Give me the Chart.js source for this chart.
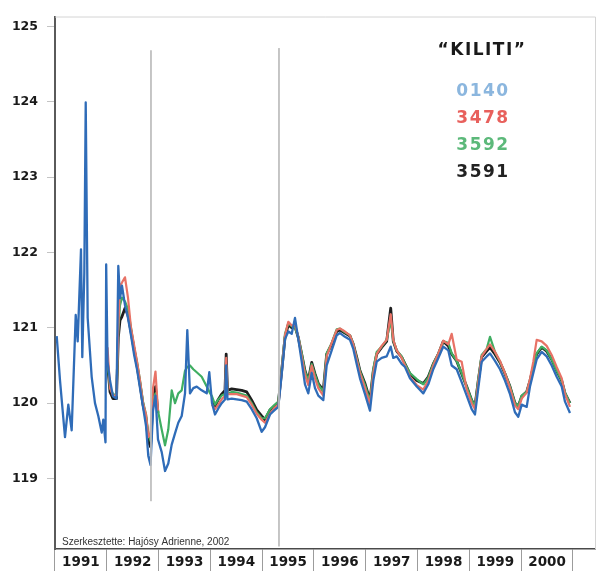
<!DOCTYPE html>
<html>
<head>
<meta charset="utf-8">
<script src="https://cdn.jsdelivr.net/npm/chart.js@4.4.1/dist/chart.umd.min.js"></script>
<style>
  html, body { margin: 0; padding: 0; background: #fff; }
  #wrap { width: 603px; height: 573px; }
</style>
</head>
<body>
<div id="wrap"><canvas id="c" width="603" height="573"></canvas></div>
<script>
// Measurement dates as decimal years
const dates = [
  1991.033, 1991.097, 1991.193, 1991.257, 1991.322, 1991.400, 1991.438, 1991.502, 1991.527, 1991.566,
  1991.593, 1991.631, 1991.708, 1991.772, 1991.836, 1991.902, 1991.932, 1991.975, 1991.988,
  1992.014, 1992.062, 1992.120, 1992.187, 1992.222, 1992.255, 1992.293, 1992.351, 1992.409, 1992.467,
  1992.525, 1992.583, 1992.641, 1992.699, 1992.757, 1992.801, 1992.844, 1992.892, 1992.940, 1992.988,
  1993.060, 1993.124, 1993.187, 1993.253, 1993.317, 1993.380, 1993.446, 1993.510, 1993.554, 1993.606,
  1993.670, 1993.736, 1993.832, 1993.929, 1993.979, 1994.031,
  1994.089, 1994.153, 1994.218, 1994.282, 1994.305, 1994.330, 1994.411, 1994.508, 1994.604, 1994.701,
  1994.797, 1994.894, 1994.990,
  1995.054, 1995.151, 1995.228, 1995.311, 1995.376, 1995.440, 1995.504, 1995.570, 1995.633, 1995.697,
  1995.763, 1995.826, 1995.890, 1995.956, 1996.019, 1996.083, 1996.180, 1996.245, 1996.342, 1996.438,
  1996.502, 1996.598, 1996.695, 1996.759, 1996.824, 1996.888, 1996.985, 1997.081, 1997.145, 1997.210,
  1997.307, 1997.403, 1997.481, 1997.531, 1997.597, 1997.693, 1997.757, 1997.853, 1997.983, 1998.110,
  1998.207, 1998.303, 1998.400, 1998.496, 1998.593, 1998.658, 1998.755, 1998.851, 1998.948, 1999.044,
  1999.108, 1999.172, 1999.237, 1999.334, 1999.398, 1999.494, 1999.591, 1999.687, 1999.784, 1999.880,
  1999.944, 2000.010, 2000.106, 2000.170, 2000.234, 2000.299, 2000.396, 2000.492, 2000.589, 2000.685,
  2000.782, 2000.846, 2000.942
];

// Well 0140 (the only record before 1992)
const s0140 = [
  120.89, 120.30, 119.55, 119.98, 119.64, 121.17, 120.82, 122.04, 120.61, 121.73,
  123.99, 121.13, 120.35, 120.00, 119.83, 119.61, 119.78, 119.48, 121.84,
  120.55, 120.30, 120.09, 120.06, 121.82, 121.39, 121.56, 121.30, 121.13, 120.90,
  120.65, 120.45, 120.20, 119.95, 119.70, 119.30, 119.18, 119.90, 120.10, 119.52,
  119.35, 119.10, 119.20, 119.45, 119.60, 119.74, 119.83, 120.13, 120.97, 120.13,
  120.20, 120.22, 120.17, 120.13, 120.41, 120.00,
  119.85, 119.93, 120.00, 120.05, 120.50, 120.05, 120.06, 120.05, 120.04, 120.02,
  119.92, 119.80, 119.62,
  119.68, 119.85, 119.90, 119.95, 120.38, 120.85, 120.95, 120.92, 121.13, 120.85,
  120.55, 120.25, 120.13, 120.40, 120.20, 120.10, 120.04, 120.50, 120.70, 120.90,
  120.93, 120.88, 120.84, 120.72, 120.52, 120.33, 120.12, 119.90, 120.30, 120.55,
  120.60, 120.62, 120.75, 120.60, 120.62, 120.52, 120.48, 120.33, 120.22, 120.13,
  120.25, 120.45, 120.60, 120.75, 120.70, 120.50, 120.45, 120.28, 120.10, 119.92,
  119.85, 120.20, 120.55, 120.62, 120.66, 120.56, 120.45, 120.30, 120.12, 119.88,
  119.82, 119.98, 119.95, 120.22, 120.40, 120.58, 120.68, 120.62, 120.50, 120.35,
  120.22, 120.02, 119.87
];

// Well 3478
const s3478 = [
  null, null, null, null, null, null, null, null, null, null,
  null, null, null, null, null, null, null, null, null,
  120.74, 120.20, 120.10, 120.10, 121.00, 121.56, 121.60, 121.67, 121.40, 121.00,
  120.78, 120.55, 120.30, 120.00, 119.85, 119.55, 119.60, 120.20, 120.42, 119.90,
  null, null, null, null, null, null, null, null, null, null,
  null, null, null, null, null, 119.98,
  119.92, 119.98, 120.05, 120.10, 120.60, 120.12, 120.12, 120.12, 120.10, 120.08,
  119.98, 119.86, 119.78,
  119.74, 119.86, 119.93, 119.98, 120.42, 120.90, 121.08, 121.03, 121.04, 120.88,
  120.62, 120.38, 120.24, 120.50, 120.33, 120.20, 120.10, 120.62, 120.80, 120.97,
  120.99, 120.95, 120.90, 120.78, 120.58, 120.40, 120.20, 119.98, 120.40, 120.65,
  120.76, 120.84, 121.18, 120.84, 120.70, 120.60, 120.50, 120.35, 120.24, 120.18,
  120.30, 120.50, 120.66, 120.83, 120.78, 120.92, 120.58, 120.55, 120.18, 120.00,
  119.92, 120.28, 120.62, 120.72, 120.78, 120.68, 120.56, 120.40, 120.20, 119.97,
  119.92, 120.06, 120.14, 120.32, 120.55, 120.84, 120.82, 120.76, 120.64, 120.48,
  120.33, 120.12, 119.95
];

// Well 3592
const s3592 = [
  null, null, null, null, null, null, null, null, null, null,
  null, null, null, null, null, null, null, null, null,
  120.55, 120.20, 120.12, 120.10, 120.95, 121.30, 121.40, 121.35, 121.25, 121.00,
  120.75, 120.55, 120.30, 120.02, 119.85, 119.60, 119.50, 120.05, 120.13, 119.90,
  119.65, 119.44, 119.65, 120.17, 120.00, 120.13, 120.17, 120.43, 120.48, 120.50,
  120.45, 120.41, 120.35, 120.22, 120.15, 120.09,
  119.98, 120.05, 120.10, 120.12, 120.50, 120.12, 120.15, 120.14, 120.12, 120.10,
  120.00, 119.88, 119.80,
  119.80, 119.92, 119.97, 120.02, 120.45, 120.92, 121.06, 121.02, 121.00, 120.88,
  120.66, 120.42, 120.30, 120.52, 120.38, 120.25, 120.15, 120.66, 120.80, 120.98,
  120.99, 120.94, 120.90, 120.78, 120.60, 120.42, 120.24, 120.02, 120.45, 120.68,
  120.75, 120.84, 121.10, 120.83, 120.70, 120.62, 120.52, 120.40, 120.32, 120.25,
  120.34, 120.52, 120.66, 120.82, 120.80, 120.66, 120.56, 120.40, 120.22, 120.04,
  119.96, 120.32, 120.64, 120.72, 120.88, 120.68, 120.55, 120.40, 120.22, 120.00,
  119.96, 120.10, 120.15, 120.30, 120.48, 120.66, 120.75, 120.70, 120.58, 120.43,
  120.30, 120.14, 120.00
];

// Well 3591
const s3591 = [
  null, null, null, null, null, null, null, null, null, null,
  null, null, null, null, null, null, null, null, null,
  120.52, 120.15, 120.06, 120.06, 120.87, 121.10, 121.15, 121.26, 121.17, 120.95,
  120.72, 120.50, 120.25, 119.98, 119.80, 119.50, 119.42, 120.05, 120.22, 119.87,
  null, null, null, null, null, null, null, null, null, null,
  null, null, null, null, null, 120.02,
  119.96, 120.05, 120.12, 120.17, 120.65, 120.17, 120.19, 120.18, 120.17, 120.15,
  120.04, 119.91, 119.83,
  119.78, 119.91, 119.95, 120.00, 120.43, 120.87, 121.04, 121.00, 121.02, 120.87,
  120.65, 120.43, 120.30, 120.54, 120.39, 120.26, 120.17, 120.65, 120.78, 120.95,
  120.97, 120.93, 120.89, 120.78, 120.61, 120.43, 120.26, 120.04, 120.43, 120.65,
  120.74, 120.82, 121.26, 120.82, 120.69, 120.61, 120.52, 120.39, 120.30, 120.26,
  120.35, 120.52, 120.65, 120.82, 120.76, 120.65, 120.56, 120.39, 120.22, 120.04,
  119.96, 120.30, 120.61, 120.69, 120.74, 120.65, 120.54, 120.39, 120.22, 120.00,
  119.96, 120.09, 120.15, 120.30, 120.48, 120.65, 120.74, 120.69, 120.58, 120.43,
  120.30, 120.13, 120.00
];

const seriesNames  = ['0140', '3478', '3592', '3591'];
const lineColors   = ['#2f6cb8', '#e87266', '#3fae62', '#1e1e1e'];
const lineWidths   = [2.3, 2.2, 2.2, 2.8];
const legendColors = ['#8bb6de', '#e8605c', '#5cb97a', '#222222'];
const legendTitle  = '\u201CKILITI\u201D';

// Thin vertical guide lines
const guideDates  = [1992.853, 1995.324];
const guideTop    = [124.68, 124.71];
const guideBottom = [118.70, 118.10];

const yTicks     = [119, 120, 121, 122, 123, 124, 125];
const yearMids   = [1991.5, 1992.5, 1993.5, 1994.5, 1995.5, 1996.5, 1997.5, 1998.5, 1999.5, 2000.5];
const yearLabels = ['1991', '1992', '1993', '1994', '1995', '1996', '1997', '1998', '1999', '2000'];
const credit     = 'Szerkesztette: Hajósy Adrienne, 2002';

const toPoints = vals => dates.map((d, i) => ({ x: d, y: vals[i] }));
const allSeries = [s0140, s3478, s3592, s3591];

const datasets = [];
guideDates.forEach((d, i) => {
  datasets.push({
    label: 'guide' + i,
    data: [{ x: d, y: guideTop[i] }, { x: d, y: guideBottom[i] }],
    borderColor: '#bdbdbd', borderWidth: 1, pointRadius: 0
  });
});
allSeries.forEach((vals, i) => {
  datasets.push({
    label: seriesNames[i],
    data: toPoints(vals),
    borderColor: lineColors[i],
    borderWidth: lineWidths[i],
    pointRadius: 0,
    tension: 0,
    spanGaps: false,
    borderJoinStyle: 'round'
  });
});

// Light frame on the top and right of the plot
const framePlugin = {
  id: 'frame',
  beforeDatasetsDraw(chart) {
    const { ctx, chartArea: a } = chart;
    ctx.save();
    ctx.strokeStyle = '#d4d4d4';
    ctx.lineWidth = 1;
    ctx.beginPath();
    ctx.moveTo(a.left, a.top + 0.5);
    ctx.lineTo(a.right + 0.5, a.top + 0.5);
    ctx.lineTo(a.right + 0.5, a.bottom);
    ctx.stroke();
    ctx.restore();
  }
};

// Station title, well numbers and the author line
const textPlugin = {
  id: 'texts',
  afterDraw(chart) {
    const { ctx, chartArea: a } = chart;
    ctx.save();
    ctx.textAlign = 'center';
    ctx.textBaseline = 'alphabetic';
    ctx.fillStyle = '#1a1a1a';
    ctx.font = 'bold 17px "DejaVu Sans"';
    ctx.letterSpacing = '1.5px';
    ctx.fillText(legendTitle, 482, 55);
    const baselines = [96, 123, 150, 177];
    seriesNames.forEach((n, i) => {
      ctx.fillStyle = legendColors[i];
      ctx.fillText(n, 483, baselines[i]);
    });
    ctx.letterSpacing = '0px';
    ctx.textAlign = 'left';
    ctx.fillStyle = '#333';
    ctx.font = '10px "Liberation Sans"';
    ctx.fillText(credit, a.left + 7, a.bottom - 4);
    ctx.restore();
  }
};

new Chart(document.getElementById('c'), {
  type: 'line',
  data: { datasets },
  options: {
    responsive: false,
    animation: false,
    events: [],
    layout: { padding: { top: 5, right: 8, left: 0, bottom: 0 } },
    plugins: { legend: { display: false }, tooltip: { enabled: false } },
    scales: {
      x: {
        type: 'linear',
        min: 1991,
        max: 2001.425,
        afterBuildTicks: s => { s.ticks = yearMids.map(v => ({ value: v })); },
        afterFit: s => { s.height = 24; },
        grid: { offset: true, drawOnChartArea: false, drawTicks: true, tickLength: 22, color: '#9c9c9c', lineWidth: 1 },
        border: { display: true, color: '#4a4a4a', width: 1.5 },
        ticks: {
          autoSkip: false, maxRotation: 0, minRotation: 0,
          padding: -17,
          color: '#1a1a1a',
          font: { family: 'DejaVu Sans', weight: 'bold', size: 13.5 },
          callback: (v, i) => yearLabels[i]
        }
      },
      y: {
        type: 'linear',
        min: 118.065,
        max: 125.13,
        afterBuildTicks: s => { s.ticks = yTicks.map(v => ({ value: v })); },
        afterFit: s => { s.width = 55; },
        grid: { drawOnChartArea: false, drawTicks: true, tickLength: 8, color: '#c4c4c4', lineWidth: 1 },
        border: { display: true, color: '#5a5a5a', width: 2 },
        ticks: {
          padding: 9,
          color: '#1a1a1a',
          font: { family: 'DejaVu Sans', weight: 'bold', size: 12.5 },
          callback: v => String(v)
        }
      }
    }
  },
  plugins: [framePlugin, textPlugin]
});
</script>
</body>
</html>
